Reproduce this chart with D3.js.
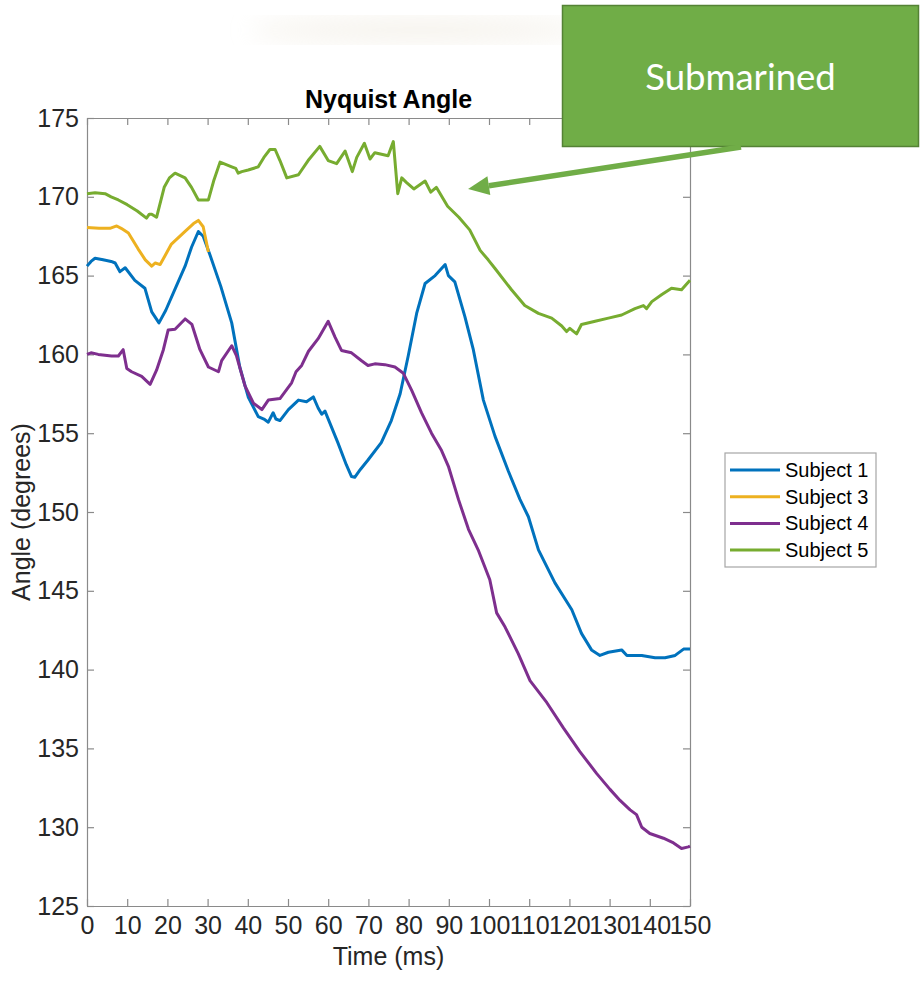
<!DOCTYPE html>
<html>
<head>
<meta charset="utf-8">
<script src="https://cdn.jsdelivr.net/npm/d3@7"></script>
<style>
    html, body { margin: 0; padding: 0; background: #ffffff; }
    #chart { width: 920px; height: 981px; }
    .axis text { font-family: "Liberation Sans", Arial, sans-serif; font-size: 25px; fill: #262626; }
    .axis path, .axis line { stroke: #8a8a8a; stroke-width: 1.2px; }
</style>
</head>
<body>
<div id="chart"></div>
<script>
///// DATOS /////
let xTicks = [0, 10, 20, 30, 40, 50, 60, 70, 80, 90, 100, 110, 120, 130, 140, 150];
let yTicks = [125, 130, 135, 140, 145, 150, 155, 160, 165, 170, 175];
let seriesNames = ['Subject 1', 'Subject 3', 'Subject 4', 'Subject 5'];
let seriesColors = ['#0072BD', '#EDB120', '#7E2F8E', '#77AC30'];

// Subject 1
let time1 = [0, 1, 2, 4, 6, 7, 8.2, 9.5, 11.9, 14.4, 16.1, 17.9, 19.6, 22, 24.4, 26, 27.7, 28.9, 30.6, 33.3, 36, 38, 40.1, 42.6, 44, 45.1, 46.3, 47, 48, 50.1, 52.6, 54.6, 56.3, 57.5, 58.4, 59.2, 62.4, 64.5, 65.8, 66.6, 68, 69.9, 73.2, 75.7, 77.9, 79.9, 82, 84.1, 86.6, 89.1, 89.9, 91.5, 94, 96.1, 98.6, 101.5, 104.8, 107.7, 109.8, 112.3, 116.4, 120.6, 123, 125.5, 127.6, 129.7, 133, 134.3, 138, 141.3, 143.8, 146.3, 148.4, 150];
let angle1 = [165.6, 165.9, 166.1, 166.0, 165.9, 165.8, 165.25, 165.5, 164.7, 164.2, 162.7, 162.0, 162.8, 164.2, 165.6, 166.8, 167.8, 167.5, 166.3, 164.3, 162.0, 159.2, 157.3, 156.05, 155.9, 155.7, 156.3, 155.9, 155.8, 156.5, 157.1, 157.0, 157.3, 156.6, 156.2, 156.4, 154.4, 153.0, 152.25, 152.2, 152.7, 153.3, 154.4, 155.8, 157.5, 159.9, 162.6, 164.5, 165.0, 165.7, 165.0, 164.6, 162.4, 160.3, 157.1, 154.8, 152.6, 150.8, 149.7, 147.6, 145.5, 143.8, 142.3, 141.25, 140.9, 141.1, 141.25, 140.9, 140.9, 140.75, 140.75, 140.9, 141.3, 141.3];

// Subject 3
let time3 = [0, 3, 5.7, 7.4, 8.5, 10.3, 12.7, 14.5, 16.1, 17, 18.2, 21, 24.4, 26.5, 27.7, 28.9, 30.2];
let angle3 = [168.05, 168.0, 168.0, 168.15, 168.0, 167.7, 166.7, 166.0, 165.6, 165.8, 165.7, 167.0, 167.8, 168.3, 168.5, 168.1, 166.5];

// Subject 4
let time4 = [0, 1, 2.8, 6.1, 7.8, 9, 9.9, 11.1, 13.6, 15.7, 17.3, 19, 20.2, 21.9, 24.4, 26.1, 28.1, 30.2, 32.7, 33.5, 36, 37.2, 39.3, 41.4, 43.5, 45.1, 48, 50.9, 52, 53.4, 55.1, 57.5, 60, 61.7, 63.3, 65.8, 68.3, 69.9, 71.6, 74.1, 76.6, 78.7, 80.8, 83.2, 85.7, 88.2, 89.9, 92.4, 94.9, 97.3, 100.2, 101.9, 104, 107.3, 110.2, 114.4, 118.5, 122.6, 126.8, 130.1, 132.6, 135.1, 136.7, 138, 140, 143.4, 145.9, 147.9, 149.6, 150];
let angle4 = [160.0, 160.1, 160.0, 159.9, 159.9, 160.3, 159.1, 158.9, 158.6, 158.1, 159.0, 160.3, 161.55, 161.6, 162.25, 161.9, 160.3, 159.2, 158.9, 159.6, 160.55, 159.9, 158.0, 156.9, 156.5, 157.1, 157.2, 158.2, 158.9, 159.3, 160.2, 161.0, 162.1, 161.1, 160.25, 160.1, 159.6, 159.3, 159.4, 159.35, 159.2, 158.8, 157.7, 156.3, 155.0, 153.9, 152.9, 150.8, 148.9, 147.6, 145.7, 143.6, 142.7, 141.0, 139.3, 137.9, 136.3, 134.8, 133.4, 132.4, 131.7, 131.1, 130.8, 130.0, 129.6, 129.3, 129.0, 128.65, 128.75, 128.8];

// Subject 5
let time5 = [0, 2, 4.5, 6, 7.8, 10, 12.5, 14.8, 15.5, 16.1, 17.3, 19.2, 20.5, 21.9, 24.4, 26, 27.7, 30.2, 31.5, 33.1, 36, 37, 37.6, 38.5, 40.1, 42.6, 44, 45.5, 46.8, 48, 49.7, 52.6, 55, 57.9, 60, 62.1, 64.2, 66, 67.1, 69, 70.4, 71.6, 74.9, 76.2, 77.3, 78.3, 79.5, 81.3, 84.1, 85.5, 86.9, 89.7, 92.5, 95.2, 97.8, 99.8, 101.5, 105.6, 108.9, 112.3, 115.6, 118.1, 119.3, 120.1, 121.8, 123, 126.4, 129.7, 133, 136.3, 138.4, 139.2, 140.5, 143, 145.4, 147.9, 150];
let angle5 = [170.2, 170.25, 170.2, 170.0, 169.8, 169.5, 169.1, 168.65, 168.9, 168.9, 168.7, 170.6, 171.2, 171.5, 171.2, 170.6, 169.8, 169.8, 171.0, 172.2, 171.9, 171.8, 171.5, 171.6, 171.7, 171.9, 172.5, 173.0, 173.0, 172.3, 171.2, 171.4, 172.3, 173.2, 172.3, 172.1, 172.9, 171.6, 172.5, 173.4, 172.4, 172.8, 172.6, 173.5, 170.2, 171.2, 170.9, 170.5, 171.0, 170.3, 170.6, 169.4, 168.7, 167.9, 166.6, 166.0, 165.45, 164.1, 163.1, 162.6, 162.3, 161.8, 161.45, 161.65, 161.3, 161.9, 162.1, 162.3, 162.5, 162.9, 163.1, 162.9, 163.35, 163.8, 164.2, 164.1, 164.7];

// Anotación
let noteText = 'Submarined';
let noteTarget = [94.8, 170.5]; //Punto (tiempo, ángulo) al que apunta la flecha

///// VISUALIZACIÓN /////
let chartBlock = d3.select('#chart');
let margin = {top: 118, right: 230, bottom: 75, left: 87};
let width = 920 - margin.left - margin.right,
    height = 981 - margin.top - margin.bottom;

let svg = chartBlock.append('svg')
    .attr('width', 920)
    .attr('height', 981);

//Fondo difuminado de la diapositiva
let defs = svg.append('defs');
defs.append('filter').attr('id', 'blur').append('feGaussianBlur').attr('stdDeviation', 12);
svg.append('ellipse')
    .attr('cx', 420).attr('cy', 30)
    .attr('rx', 170).attr('ry', 12)
    .attr('fill', '#ece6d9')
    .attr('opacity', 0.5)
    .attr('filter', 'url(#blur)');

let chart = svg.append('g')
    .attr('transform', 'translate(' + margin.left + ',' + margin.top + ')');

chart.append('rect')
    .attr('width', width)
    .attr('height', height)
    .attr('fill', '#ffffff');

//Escalas
let x = d3.scaleLinear().domain([0, 150]).range([0, width]);
let y = d3.scaleLinear().domain([125, 175]).range([height, 0]);

//Ejes (ticks hacia dentro, caja completa)
chart.append('g')
    .attr('class', 'axis x-axis')
    .attr('transform', 'translate(0,' + height + ')')
    .call(d3.axisBottom(x).tickValues(xTicks).tickSizeInner(-7).tickSizeOuter(0).tickPadding(10));

chart.append('g')
    .attr('class', 'axis x-axis-top')
    .call(d3.axisTop(x).tickValues(xTicks).tickSizeInner(-7).tickSizeOuter(0).tickFormat(''));

chart.append('g')
    .attr('class', 'axis y-axis')
    .call(d3.axisLeft(y).tickValues(yTicks).tickSizeInner(-7).tickSizeOuter(0).tickPadding(8));

chart.append('g')
    .attr('class', 'axis y-axis-right')
    .attr('transform', 'translate(' + width + ',0)')
    .call(d3.axisRight(y).tickValues(yTicks).tickSizeInner(-7).tickSizeOuter(0).tickFormat(''));

//Líneas
let series = [
    {name: seriesNames[0], color: seriesColors[0], values: time1.map((t, i) => [t, angle1[i]])},
    {name: seriesNames[1], color: seriesColors[1], values: time3.map((t, i) => [t, angle3[i]])},
    {name: seriesNames[2], color: seriesColors[2], values: time4.map((t, i) => [t, angle4[i]])},
    {name: seriesNames[3], color: seriesColors[3], values: time5.map((t, i) => [t, angle5[i]])}
];

let line = d3.line()
    .x(d => x(d[0]))
    .y(d => y(d[1]));

chart.selectAll('.line-chart')
    .data(series)
    .enter()
    .append('path')
    .attr('class', 'line-chart')
    .attr('fill', 'none')
    .attr('stroke', d => d.color)
    .attr('stroke-width', 3)
    .attr('stroke-linejoin', 'round')
    .attr('d', d => line(d.values));

//Títulos
svg.append('text')
    .attr('x', margin.left + width / 2)
    .attr('y', 108)
    .attr('text-anchor', 'middle')
    .style('font-family', '"Liberation Sans", Arial, sans-serif')
    .style('font-size', '25px')
    .style('font-weight', 'bold')
    .style('fill', '#000000')
    .text('Nyquist Angle');

svg.append('text')
    .attr('x', margin.left + width / 2)
    .attr('y', 965)
    .attr('text-anchor', 'middle')
    .style('font-family', '"Liberation Sans", Arial, sans-serif')
    .style('font-size', '25px')
    .style('fill', '#262626')
    .text('Time (ms)');

svg.append('text')
    .attr('transform', 'translate(30,' + (margin.top + height / 2) + ') rotate(-90)')
    .attr('text-anchor', 'middle')
    .style('font-family', '"Liberation Sans", Arial, sans-serif')
    .style('font-size', '25px')
    .style('fill', '#262626')
    .text('Angle (degrees)');

//Leyenda
let legend = svg.append('g').attr('transform', 'translate(725,453)');
legend.append('rect')
    .attr('width', 151)
    .attr('height', 114)
    .attr('fill', '#ffffff')
    .attr('stroke', '#a6a6a6')
    .attr('stroke-width', 1.2);

let legendItem = legend.selectAll('.legend-item')
    .data(series)
    .enter()
    .append('g')
    .attr('class', 'legend-item')
    .attr('transform', (d, i) => 'translate(0,' + (17 + i * 26.7) + ')');

legendItem.append('line')
    .attr('x1', 5).attr('x2', 55)
    .attr('stroke', d => d.color)
    .attr('stroke-width', 3);

legendItem.append('text')
    .attr('x', 60)
    .attr('y', 7)
    .style('font-family', '"Liberation Sans", Arial, sans-serif')
    .style('font-size', '20px')
    .style('fill', '#000000')
    .text(d => d.name);

//Cuadro "Submarined" y flecha
let note = svg.append('g').attr('class', 'note');
let boxX = 562.5, boxY = 5.5, boxW = 356, boxH = 141;

note.append('rect')
    .attr('x', boxX).attr('y', boxY)
    .attr('width', boxW).attr('height', boxH)
    .attr('fill', '#70AD47')
    .attr('stroke', '#548235')
    .attr('stroke-width', 1.5);

note.append('text')
    .attr('x', boxX + boxW / 2)
    .attr('y', 90)
    .attr('text-anchor', 'middle')
    .style('font-family', 'Lato, "Open Sans", sans-serif')
    .style('font-size', '36.5px')
    .style('fill', '#ffffff')
    .text(noteText);

let tipX = margin.left + x(noteTarget[0]),
    tipY = margin.top + y(noteTarget[1]);
let startX = 741, startY = 147;
let dx = startX - tipX, dy = startY - tipY, len = Math.sqrt(dx * dx + dy * dy);
let ux = dx / len, uy = dy / len;
let headL = 21, headW = 9.5;
let baseX = tipX + ux * headL, baseY = tipY + uy * headL;

note.append('line')
    .attr('x1', startX).attr('y1', startY)
    .attr('x2', baseX).attr('y2', baseY)
    .attr('stroke', '#70AD47')
    .attr('stroke-width', 5.5);

note.append('path')
    .attr('d', 'M' + tipX + ',' + tipY +
        'L' + (baseX - uy * headW) + ',' + (baseY + ux * headW) +
        'L' + (baseX + uy * headW) + ',' + (baseY - ux * headW) + 'Z')
    .attr('fill', '#70AD47');
</script>
</body>
</html>
